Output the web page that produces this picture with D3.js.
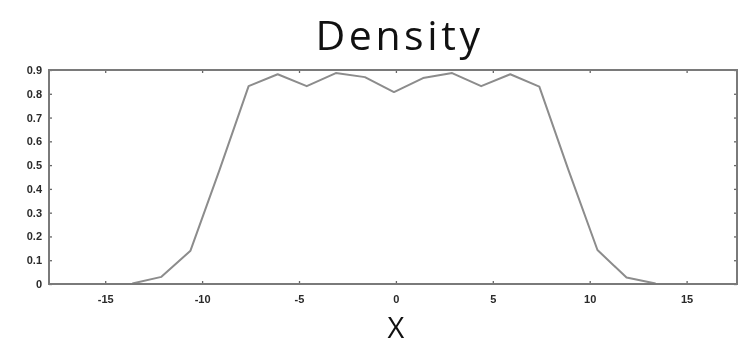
<!DOCTYPE html>
<html>
<head>
<meta charset="utf-8">
<script src="https://cdn.jsdelivr.net/npm/d3@7"></script>
<style>
  html, body { margin: 0; padding: 0; background: #fff; }
  svg { display: block; }
</style>
</head>
<body>
<svg id="chart" width="738" height="345"></svg>
<script>
// Density estimate sampled on a regular grid
const xValues = [-13.6, -12.1, -10.6, -9.1, -7.6, -6.1, -4.6, -3.1, -1.6, -0.1,
                 1.4, 2.9, 4.4, 5.9, 7.4, 8.9, 10.4, 11.9, 13.4];
const densityValues = [0.002, 0.03, 0.14, 0.48, 0.832, 0.882, 0.832, 0.887, 0.87, 0.807,
                       0.866, 0.887, 0.832, 0.882, 0.83, 0.48, 0.143, 0.027, 0.002];
const xTicks = [-15, -10, -5, 0, 5, 10, 15];
const yTicks = [0, 0.1, 0.2, 0.3, 0.4, 0.5, 0.6, 0.7, 0.8, 0.9];
const titleText = "Density";
const xLabelText = "X";

const svg = d3.select("#chart");
const plotLeft = 49, plotRight = 737, plotTop = 70, plotBottom = 284;

const x = d3.scaleLinear().domain([-17.9, 17.6]).range([plotLeft, plotRight]);
const y = d3.scaleLinear().domain([0, 0.9]).range([plotBottom, plotTop]);

// soft rendering of the axes and curve
const defs = svg.append("defs");
defs.append("filter").attr("id", "soft")
  .attr("x", "-5%").attr("y", "-5%").attr("width", "110%").attr("height", "110%")
  .append("feGaussianBlur").attr("stdDeviation", 0.7);

const plot = svg.append("g").attr("filter", "url(#soft)");

// density curve
const line = d3.line().x((d, i) => x(xValues[i])).y(d => y(d));
plot.append("path")
  .datum(densityValues)
  .attr("d", line)
  .attr("fill", "none")
  .attr("stroke", "#8c8c8c")
  .attr("stroke-width", 2)
  .attr("stroke-linejoin", "round");

// axes with inward ticks on all four sides
const tickFont = "'Liberation Sans', Arial, sans-serif";
const bottomAxis = d3.axisBottom(x).tickValues(xTicks).tickSize(-3).tickPadding(11)
  .tickFormat(d => String(d));
const topAxis = d3.axisTop(x).tickValues(xTicks).tickSize(-3).tickFormat("");
const leftAxis = d3.axisLeft(y).tickValues(yTicks).tickSize(-3).tickPadding(7)
  .tickFormat(d => d === 0 ? "0" : d3.format(".1f")(d));
const rightAxis = d3.axisRight(y).tickValues(yTicks).tickSize(-3).tickFormat("");

function style(g) {
  g.select(".domain").remove();
  g.selectAll(".tick line").attr("stroke", "#666").attr("stroke-width", 1.3);
  g.selectAll(".tick text")
    .attr("fill", "#2a2a2a")
    .style("font-family", tickFont)
    .style("font-size", "11px")
    .style("font-weight", "bold");
}

plot.append("g").attr("transform", `translate(0,${plotBottom})`).call(bottomAxis).call(style);
plot.append("g").attr("transform", `translate(0,${plotTop})`).call(topAxis).call(style);
plot.append("g").attr("transform", `translate(${plotLeft},0)`).call(leftAxis).call(style);
plot.append("g").attr("transform", `translate(${plotRight},0)`).call(rightAxis).call(style);

// frame
plot.append("rect")
  .attr("x", plotLeft).attr("y", plotTop)
  .attr("width", plotRight - plotLeft).attr("height", plotBottom - plotTop)
  .attr("fill", "none")
  .attr("stroke", "#7a7a7a")
  .attr("stroke-width", 2);

// title and axis label
svg.append("text")
  .attr("x", 399.5).attr("y", 50)
  .attr("text-anchor", "middle")
  .style("font-family", "'Open Sans', 'Noto Sans', sans-serif")
  .style("font-weight", 400)
  .style("font-size", "41px")
  .style("letter-spacing", "3.6px")
  .attr("fill", "#111")
  .text(titleText);

svg.append("text")
  .attr("x", 396).attr("y", 338)
  .attr("text-anchor", "middle")
  .style("font-family", "'Open Sans', 'Noto Sans', sans-serif")
  .style("font-weight", 400)
  .style("font-size", "29px")
  .attr("fill", "#111")
  .text(xLabelText);
</script>
</body>
</html>
